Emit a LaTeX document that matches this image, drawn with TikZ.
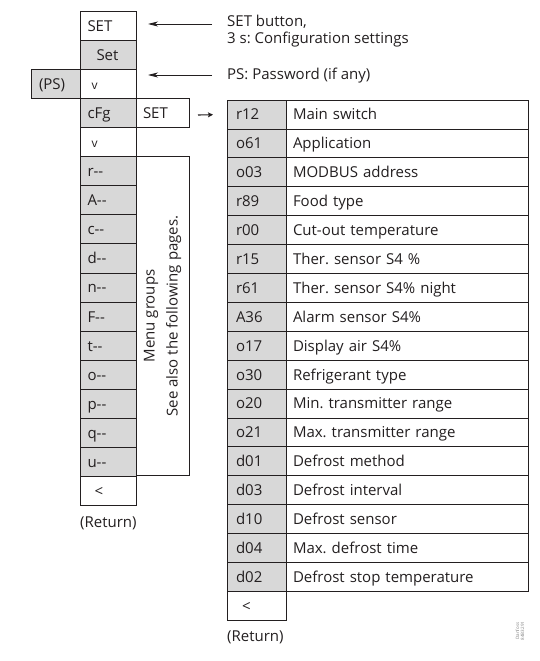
\documentclass[tikz,border=0pt]{standalone}
\usepackage{fontspec}
\setmainfont{Open Sans}
\usetikzlibrary{arrows.meta}
\definecolor{cellgray}{RGB}{216,216,216}
\definecolor{linecol}{RGB}{35,31,32}
\newcommand{\dn}{{\fontsize{12}{14}\selectfont v}}
\begin{document}
\frenchspacing
\begin{tikzpicture}[x=1pt,y=-1pt,
  every node/.style={font=\fontsize{15}{17}\selectfont, text=linecol},
  cell/.style={draw=linecol, line width=0.8pt, anchor=north west, minimum height=29.1pt,
    inner ysep=0pt, outer sep=0pt, align=left, text height=13pt, text depth=2pt},
  lcell/.style={cell, fill=white, text width=41pt, inner xsep=7.5pt},
  lgray/.style={lcell, fill=cellgray},
  rcode/.style={cell, fill=cellgray, text width=41pt, inner xsep=9pt, minimum height=28.9pt},
  rdesc/.style={cell, fill=white, text width=228pt, inner xsep=7pt, minimum height=28.9pt},
  lbl/.style={anchor=base west, inner sep=0pt, align=left},
  arr/.style={draw=linecol, line width=0.8pt, -{Stealth[length=10pt,width=5pt,inset=3pt]}},
  arrsmall/.style={draw=linecol, line width=1.1pt, -{Stealth[length=5pt,width=5pt,inset=1pt]}},
]
\useasboundingbox (0,0) rectangle (539,661);

% left column
\node[lcell] (L1) at (80,11) {SET};
\node[lgray] (L2) at (L1.south west) {\hspace*{9pt}Set};
\node[lcell] (L3) at (L2.south west) {\hspace*{4pt}\dn};
\node[lgray] (L4) at (L3.south west) {cFg};
\node[lcell] (L5) at (L4.south west) {\hspace*{4pt}\dn};
\node[cell, fill=cellgray, text width=33pt, inner xsep=8pt, anchor=north east] (PS) at (L3.north west) {(PS)};
\node[cell, fill=white, text width=39pt, inner xsep=7pt] (S2) at (L4.north east) {SET};

\foreach \t [count=\i from 6, evaluate=\i as \p using int(\i-1)] in {r,A,c,d,n,F,t,o,p,q,u} {
  \node[lgray] (L\i) at (L\p.south west) {\t-{}-};
}
\node[lcell] (L17) at (L16.south west) {\hspace*{7pt}<};
\node[lbl] (ret1) at (80,527) {(Return)};

% menu groups box
\node[draw=linecol, line width=0.8pt, anchor=north west, minimum width=53pt, minimum height=319pt, inner sep=0pt, outer sep=0pt] (menu) at (L6.north east) {};
\node[rotate=90, align=center, font=\fontsize{15}{23}\selectfont] (menutxt) at (menu.center) {Menu groups\\See also the following pages.};

% right table
\foreach \c/\d [count=\i] in {r12/Main switch, o61/Application, o03/MODBUS address, r89/Food type,
  r00/Cut-out temperature, r15/Ther. sensor S4 \%, r61/Ther. sensor S4\% night, A36/Alarm sensor S4\%,
  o17/Display air S4\%, o30/Refrigerant type, o20/Min. transmitter range, o21/Max. transmitter range,
  d01/Defrost method, d03/Defrost interval, d10/Defrost sensor, d04/Max. defrost time,
  d02/Defrost stop temperature} {
  \node[rcode] (c\i) at (227,{100+(\i-1)*28.9}) {\c};
  \node[rdesc] (d\i) at (c\i.north east) {\d};
}
\node[rcode, fill=white] (c18) at (c17.south west) {\hspace*{6pt}<};
\node[lbl] (ret2) at (227,641) {(Return)};

% labels and arrows
\node[lbl] (lset) at (227,43.5) {SET button,\\3 s: Configuration settings};
\node[lbl] (lps) at (227,80) {PS: Password (if any)};
\coordinate (a1) at (212,24);
\coordinate (a2) at (212,75);
\coordinate (a3) at (198,115);
\draw[arr, shorten >=12pt] (a1) -- (a1 -| L1.east);
\draw[arr, shorten >=12pt] (a2) -- (a2 -| L3.east);
\draw[arrsmall, shorten >=14pt] (a3) -- (c1.west);

\node[rotate=90, align=center, text=gray, font=\fontsize{4.5}{5}\selectfont] (dan) at (520,631) {Danfoss\\84B3291};
\end{tikzpicture}
\end{document}
